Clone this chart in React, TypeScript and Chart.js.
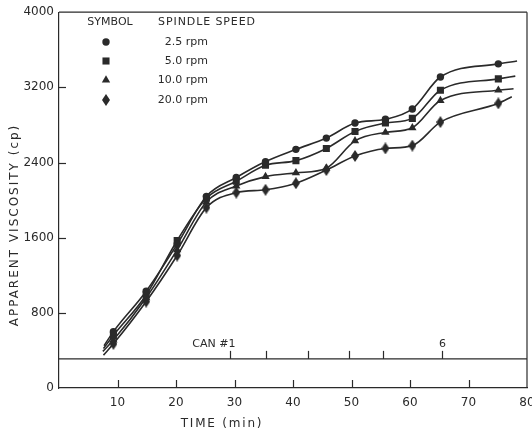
import React, { useEffect, useRef } from "react";
import { Chart, registerables } from "chart.js";
import { drawPoint } from "chart.js/helpers";

Chart.register(...registerables);

// ---- data ----
const TIME_MIN = [9.3, 14.9, 20.2, 25.2, 30.3, 35.3, 40.5, 45.7, 50.6, 55.8, 60.4, 65.2, 75.1];
const VISC_2_5 = [600, 1030, 1530, 2040, 2240, 2410, 2540, 2660, 2820, 2860, 2970, 3310, 3450];
const VISC_5_0 = [560, 990, 1570, 2020, 2200, 2370, 2420, 2550, 2730, 2820, 2870, 3170, 3290];
const VISC_10_0 = [510, 960, 1470, 1980, 2150, 2250, 2290, 2340, 2630, 2720, 2770, 3060, 3170];
const VISC_20_0 = [470, 920, 1410, 1920, 2080, 2110, 2180, 2320, 2470, 2550, 2580, 2830, 3030];

// where each drawn curve begins and ends (no marker there)
const CURVE_START_T = [7.7, 7.6, 7.5, 7.6];
const CURVE_START_V = [450, 420, 390, 350];
const CURVE_END_T = [78.3, 78.0, 77.7, 77.4];
const CURVE_END_V = [3480, 3320, 3185, 3100];

const SERIES_LABELS = ["2.5 rpm", "5.0 rpm", "10.0 rpm", "20.0 rpm"];
const X_TICKS = [10, 20, 30, 40, 50, 60, 70, 80];
const Y_TICKS = [0, 800, 1600, 2400, 3200, 4000];

// "CAN" row of sample marks
const CAN_LEVEL = 310;
const CAN_TIMES = [29.2, 35.3, 42.5, 49.5, 55.4, 65.5];
const CAN_LABELS = ["CAN #1", "", "", "", "", "6"];

const INK = "#2a2a2a";
const FONT = "'DejaVu Sans', 'Liberation Sans', sans-serif";

function makeDiamond(w: number, h: number, color: string) {
  const c = document.createElement("canvas");
  c.width = w;
  c.height = h;
  const g = c.getContext("2d")!;
  g.fillStyle = color;
  g.beginPath();
  g.moveTo(w / 2, 0);
  g.lineTo(w, h / 2);
  g.lineTo(w / 2, h);
  g.lineTo(0, h / 2);
  g.closePath();
  g.fill();
  return c;
}

export default function App() {
  const ref = useRef<HTMLCanvasElement | null>(null);

  useEffect(() => {
    if (!ref.current) return;
    const diamond = makeDiamond(8, 12, INK);
    const styles: any[] = ["circle", "rect", "triangle", diamond];
    const radii = [3.7, 5, 4.8, 6];
    const values = [VISC_2_5, VISC_5_0, VISC_10_0, VISC_20_0];

    const datasets = values.map((vals, i) => {
      const pts = [
        { x: CURVE_START_T[i], y: CURVE_START_V[i] },
        ...TIME_MIN.map((t, j) => ({ x: t, y: vals[j] })),
        { x: CURVE_END_T[i], y: CURVE_END_V[i] },
      ];
      return {
        label: SERIES_LABELS[i],
        data: pts,
        borderColor: INK,
        backgroundColor: INK,
        borderWidth: 1.6,
        pointStyle: styles[i],
        pointBackgroundColor: INK,
        pointBorderColor: INK,
        pointBorderWidth: 0,
        pointRadius: (c: any) =>
          c.dataIndex === 0 || c.dataIndex === c.dataset.data.length - 1 ? 0 : radii[i],
        cubicInterpolationMode: "monotone" as const,
        fill: false,
      };
    });

    const framePlugin = {
      id: "frame",
      afterDraw(chart: any) {
        const { ctx, scales } = chart;
        const xs = scales.x;
        const ys = scales.y;
        ctx.save();
        ctx.strokeStyle = INK;
        ctx.fillStyle = INK;
        ctx.lineWidth = 1.2;
        ctx.setLineDash([]);
        const seg = (x1: number, y1: number, x2: number, y2: number) => {
          ctx.beginPath();
          ctx.moveTo(x1, y1);
          ctx.lineTo(x2, y2);
          ctx.stroke();
        };
        const bottom = ys.getPixelForValue(0);
        const left = xs.getPixelForValue(0);
        const right = xs.getPixelForValue(80);
        const top = ys.getPixelForValue(4000);
        // top & right border
        seg(left, top, right, top);
        seg(right, top, right, bottom);
        // inward tick marks on the time axis
        X_TICKS.slice(0, 7).forEach((v) => {
          const px = Math.round(xs.getPixelForValue(v)) + 0.5;
          seg(px, bottom, px, bottom - 8);
        });
        // inward tick marks on the viscosity axis
        Y_TICKS.slice(1, 5).forEach((v) => {
          const py = Math.round(ys.getPixelForValue(v)) + 0.5;
          seg(left, py, left + 7, py);
        });
        // CAN row
        const cy = ys.getPixelForValue(CAN_LEVEL);
        seg(left, cy, right, cy);
        ctx.font = `11px ${FONT}`;
        ctx.textBaseline = "alphabetic";
        CAN_TIMES.forEach((t, i) => {
          const px = Math.round(xs.getPixelForValue(t)) + 0.5;
          seg(px, cy, px, cy - 8);
          if (!CAN_LABELS[i]) return;
          if (i === 0) {
            ctx.textAlign = "right";
            ctx.fillText(CAN_LABELS[i], px + 5, cy - 12);
          } else {
            ctx.textAlign = "center";
            ctx.fillText(CAN_LABELS[i], px, cy - 12);
          }
        });
        // axis titles
        ctx.textAlign = "center";
        ctx.font = `12px ${FONT}`;
        (ctx as any).letterSpacing = "1.8px";
        ctx.textBaseline = "middle";
        ctx.fillText("TIME (min)", 222, 424);
        ctx.save();
        ctx.translate(15, 225);
        ctx.rotate(-Math.PI / 2);
        (ctx as any).letterSpacing = "2px";
        ctx.fillText("APPARENT VISCOSITY (cp)", 0, 0);
        ctx.restore();
        // legend
        (ctx as any).letterSpacing = "0px";
        ctx.font = `11px ${FONT}`;
        ctx.textAlign = "center";
        ctx.fillText("SYMBOL", 110, 22);
        (ctx as any).letterSpacing = "0.9px";
        ctx.fillText("SPINDLE SPEED", 207, 22);
        (ctx as any).letterSpacing = "0px";
        ctx.textAlign = "right";
        const rowY = [42, 61, 80, 100];
        chart.data.datasets.forEach((ds: any, i: number) => {
          drawPoint(
            ctx,
            { pointStyle: styles[i], radius: radii[i], rotation: 0, borderWidth: 0 } as any,
            106,
            rowY[i]
          );
          ctx.fillStyle = INK;
          ctx.fillText(ds.label, 208, rowY[i]);
        });
        ctx.restore();
      },
    };

    const chart = new Chart(ref.current, {
      type: "line",
      data: { datasets: datasets as any },
      options: {
        responsive: false,
        animation: false,
        events: [],
        layout: { padding: { top: 10, right: 5, left: 0, bottom: 0 } },
        plugins: {
          legend: { display: false },
          tooltip: { enabled: false },
        },
        scales: {
          x: {
            type: "linear",
            min: 0,
            max: 80,
            afterBuildTicks: (s: any) => {
              s.ticks = X_TICKS.map((v) => ({ value: v }));
            },
            afterFit: (s: any) => {
              s.height = 45;
              s.paddingRight = 0;
              s.paddingLeft = 0;
            },
            grid: { drawOnChartArea: false, drawTicks: false },
            border: { display: true, color: INK, width: 1.2 },
            ticks: {
              padding: 8,
              color: INK,
              font: { family: FONT, size: 12 },
              maxRotation: 0,
              autoSkip: false,
              callback: (v: any) => String(v),
            },
          },
          y: {
            type: "linear",
            min: 0,
            max: 4000,
            afterBuildTicks: (s: any) => {
              s.ticks = Y_TICKS.map((v) => ({ value: v }));
            },
            afterFit: (s: any) => {
              s.width = 59;
            },
            grid: { drawOnChartArea: false, drawTicks: false },
            border: { display: true, color: INK, width: 1.2 },
            ticks: {
              padding: 5,
              color: INK,
              font: { family: FONT, size: 12 },
              autoSkip: false,
              callback: (v: any) => String(v),
            },
          },
        },
      },
      plugins: [framePlugin],
    });
    return () => chart.destroy();
  }, []);

  return (
    <div
      style={{
        position: "fixed",
        left: 0,
        top: 0,
        width: 532,
        height: 433,
        background: "#fff",
      }}
    >
      <canvas ref={ref} width={532} height={433} />
    </div>
  );
}
